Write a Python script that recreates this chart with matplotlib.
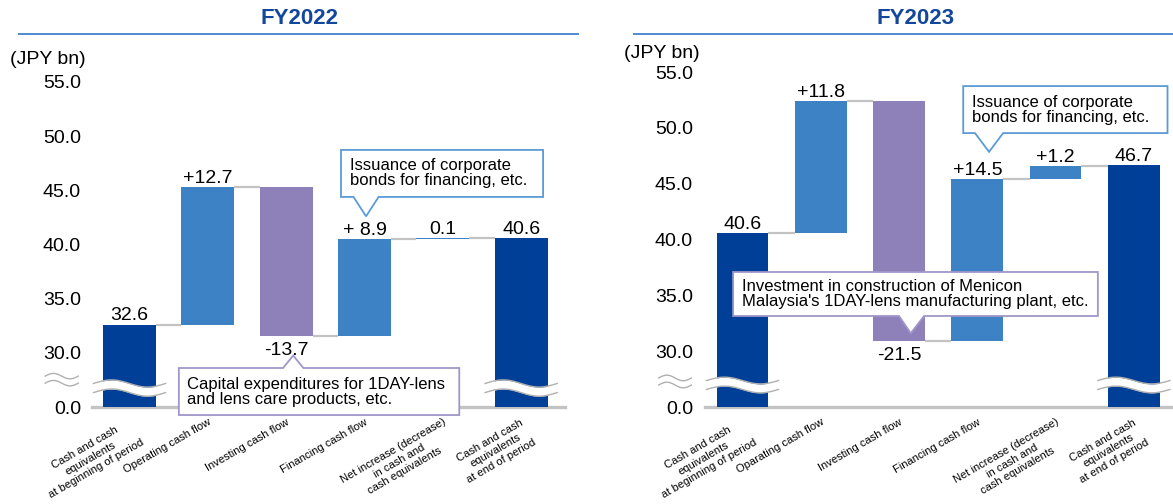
import numpy as np
import matplotlib
matplotlib.use("Agg")
import matplotlib.pyplot as plt
from matplotlib.patches import Polygon
from matplotlib.lines import Line2D
import matplotlib.transforms as mtransforms

plt.rcParams['font.family'] = ['Liberation Sans', 'DejaVu Sans']

# ---------------- data ----------------
categories_fy22 = [
    "Cash and cash\nequivalents\nat beginning of period",
    "Operating cash flow",
    "Investing cash flow",
    "Financing cash flow",
    "Net increase (decrease)\nin cash and\ncash equivalents",
    "Cash and cash\nequivalents\nat end of period",
]
categories_fy23 = [
    "Cash and cash\nequivalents\nat beginning of period",
    "Oparating cash flow",
    "Investing cash flow",
    "Financing cash flow",
    "Net increase (decrease)\nin cash and\ncash equivalents",
    "Cash and cash\nequivalents\nat end of period",
]
fy22_start = 32.6
fy22_flows = [12.7, -13.7, 8.9, 0.1]
fy22_end = 40.6
fy22_labels = ["32.6", "+12.7", "-13.7", "+ 8.9", "0.1", "40.6"]

fy23_start = 40.6
fy23_flows = [11.8, -21.5, 14.5, 1.2]
fy23_end = 46.7
fy23_labels = ["40.6", "+11.8", "-21.5", "+14.5", "+1.2", "46.7"]

tick_values = [0, 30, 35, 40, 45, 50, 55]

# ---------------- style ----------------
DARK = '#003f97'
LIGHT = '#3d82c4'
PURPLE = '#8e81ba'
GRAY = '#c3c3c3'
TITLE_C = '#12479d'
BLUE_EDGE = '#5b9bd5'
PURPLE_EDGE = '#a096c9'

W, H = 1173, 504
BASE = 25.0  # display position of the value 0 (broken axis)


def disp(v):
    return BASE if v == 0 else v


fig = plt.figure(figsize=(W / 100, H / 100), dpi=100)


def rect(l, r, top, bot):
    return [l / W, 1 - bot / H, (r - l) / W, (bot - top) / H]


ax1 = fig.add_axes(rect(92, 565, 82, 407))
ax2 = fig.add_axes(rect(705, 1173, 72, 407))


def callout(ax, x0, x1, yt, yb, side, xa, xb, xt, ytip, text, ec):
    if side == 'bottom':
        pts = [(x0, yt), (x1, yt), (x1, yb), (xb, yb), (xt, ytip), (xa, yb), (x0, yb)]
    else:
        pts = [(x0, yt), (xa, yt), (xt, ytip), (xb, yt), (x1, yt), (x1, yb), (x0, yb)]
    poly = Polygon(pts, closed=True, facecolor='white', edgecolor=ec, lw=1.3,
                   zorder=6, clip_on=False)
    ax.add_patch(poly)
    ax.text(x0 + 0.11, (yt + yb) / 2, text, fontsize=12, ha='left', va='center',
            linespacing=1.0, zorder=7, clip_on=False)


def panel(ax, start, flows, end, labels, cats, width, band_c, band_h, amp,
          apx_y, pad_y, xlim_r):
    x = np.arange(len(cats))
    bottoms, heights, colors = [BASE], [start - BASE], [DARK]
    levels = [start]
    lvl = start
    for f in flows:
        bottoms.append(min(lvl, lvl + f))
        heights.append(abs(f))
        colors.append(LIGHT if f >= 0 else PURPLE)
        lvl += f
        levels.append(lvl)
    bottoms.append(BASE)
    heights.append(end - BASE)
    colors.append(DARK)

    ax.bar(x, heights, bottom=bottoms, width=width, color=colors, zorder=3)

    # connectors
    for i in range(len(x) - 1):
        ax.plot([x[i] + width / 2, x[i + 1] - width / 2], [levels[i], levels[i]],
                color=GRAY, lw=1.6, zorder=2, solid_capstyle='butt')

    # value labels
    tops = [b + h for b, h in zip(bottoms, heights)]
    for i, lab in enumerate(labels):
        neg = 0 < i < len(x) - 1 and flows[i - 1] < 0
        if neg:
            ax.annotate(lab, (x[i], bottoms[i]), xytext=(0, -4.5), textcoords='offset points',
                        ha='center', va='top', fontsize=14, zorder=5)
        else:
            ax.annotate(lab, (x[i], tops[i]), xytext=(0, 3), textcoords='offset points',
                        ha='center', va='baseline', fontsize=14, zorder=5)

    # break bands on the total bars
    t = np.linspace(0, 1, 100)
    for i in (0, len(x) - 1):
        xs = x[i] - 0.46 + 0.92 * t
        yc = band_c + amp * np.sin(2 * np.pi * t)
        ax.fill_between(xs, yc - band_h, yc + band_h, color='white', zorder=4, lw=0)
        ax.plot(xs, yc - band_h, color='#b0b0b0', lw=1.0, zorder=4)
        ax.plot(xs, yc + band_h, color='#b0b0b0', lw=1.0, zorder=4)

    # axis break marks next to the y axis
    trans = mtransforms.blended_transform_factory(ax.transAxes, ax.transData)
    ta = np.linspace(0, 1, 60)
    for yy in apx_y:
        ax.plot(-0.099 + 0.07 * ta, yy + 0.25 * np.sin(2 * np.pi * ta), color='#b0b0b0',
                lw=1.0, transform=trans, clip_on=False)

    ax.set_xlim(-0.479, xlim_r)
    ax.set_ylim(BASE, 55)
    ax.set_yticks([disp(v) for v in tick_values])
    ax.set_yticklabels([f"{v:.1f}" for v in tick_values], fontsize=14)
    ax.set_xticks(x)
    ax.set_xticklabels(cats, fontsize=8, rotation=30, ha='right', rotation_mode='anchor')
    for tl in ax.get_xticklabels():
        tl.set_multialignment('center')
    ax.tick_params(axis='both', length=0)
    ax.tick_params(axis='y', pad=pad_y)
    ax.tick_params(axis='x', pad=7)
    for s in ('top', 'left', 'right'):
        ax.spines[s].set_visible(False)
    ax.spines['bottom'].set_color(GRAY)
    ax.spines['bottom'].set_linewidth(2.4)
    ax.spines['bottom'].set_zorder(1)
    ax.patch.set_alpha(0)


panel(ax1, fy22_start, fy22_flows, fy22_end, fy22_labels, categories_fy22, 0.68,
      26.75, 0.42, 0.33, [27.85, 27.2], 8, 5.56)
panel(ax2, fy23_start, fy23_flows, fy23_end, fy23_labels, categories_fy23, 0.66,
      26.97, 0.4, 0.3, [27.6, 26.97], 8.6, 5.50)

# callouts FY2022
callout(ax1, 2.70, 5.28, 48.73, 44.39, 'bottom', 2.86, 3.18, 3.02, 42.6,
        "Issuance of corporate\nbonds for financing, etc.", BLUE_EDGE)
callout(ax1, 0.63, 4.21, 28.6, 24.26, 'top', 1.96, 2.22, 2.09, 29.75,
        "Capital expenditures for 1DAY-lens\nand lens care products, etc.", PURPLE_EDGE)
# callouts FY2023
callout(ax2, 2.82, 5.43, 53.74, 49.53, 'bottom', 2.97, 3.33, 3.15, 47.85,
        "Issuance of corporate\nbonds for financing, etc.", BLUE_EDGE)
callout(ax2, -0.12, 4.54, 37.09, 33.15, 'bottom', 2.0, 2.32, 2.15, 31.6,
        "Investment in construction of Menicon\nMalaysia's 1DAY-lens manufacturing plant, etc.",
        PURPLE_EDGE)

# titles and header lines
fig.text(299 / W, 1 - 19 / H, "FY2022", ha='center', va='center', fontsize=16,
         fontweight='bold', color=TITLE_C)
fig.text(916 / W, 1 - 19 / H, "FY2023", ha='center', va='center', fontsize=16,
         fontweight='bold', color=TITLE_C)
fig.add_artist(Line2D([19 / W, 578 / W], [1 - 34 / H] * 2, color='#4f8ad0', lw=1.4))
fig.add_artist(Line2D([634 / W, 1173 / W], [1 - 34 / H] * 2, color='#4f8ad0', lw=1.4))
fig.text(10 / W, 1 - 60 / H, "(JPY bn)", ha='left', va='center', fontsize=14)
fig.text(624 / W, 1 - 53 / H, "(JPY bn)", ha='left', va='center', fontsize=14)

fig.savefig("out.png", dpi=100)
